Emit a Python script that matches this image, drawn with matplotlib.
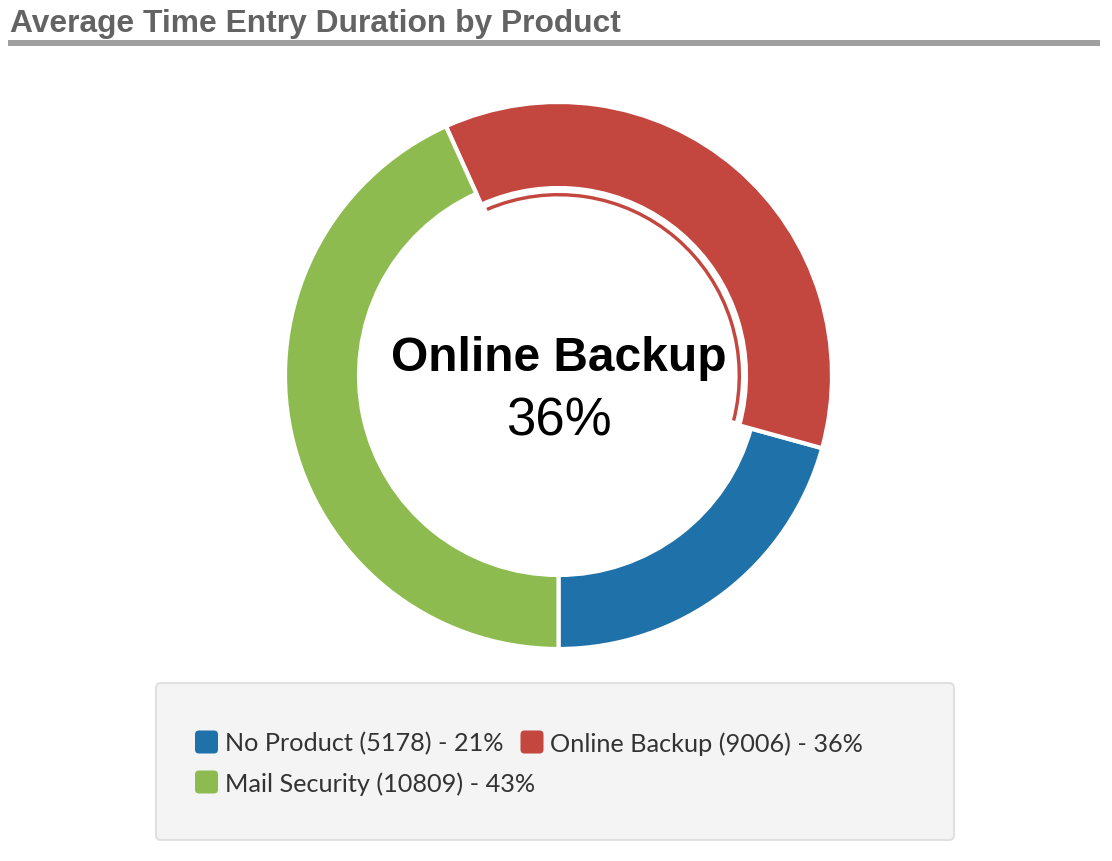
import matplotlib
matplotlib.use("Agg")
import matplotlib.pyplot as plt
from matplotlib.patches import Wedge, FancyBboxPatch, Rectangle

# chart data
products = ["No Product", "Online Backup", "Mail Security"]
durations = [5178, 9006, 10809]
colors = ["#1f72a9", "#c3463f", "#8dbb4f"]
highlight = 1  # hovered slice shown in the middle
title = "Average Time Entry Duration by Product"

total = sum(durations)
pcts = [round(100 * v / total) for v in durations]

W, H = 1112, 862
fig = plt.figure(figsize=(W / 100, H / 100), dpi=100)

# background axes in pixel units for title and legend
bg = fig.add_axes([0, 0, 1, 1])
bg.set_xlim(0, W)
bg.set_ylim(H, 0)
bg.axis("off")

bg.text(10, 32, title, fontsize=22.9, fontweight="bold", color="#636363",
        family="Liberation Sans", va="baseline", ha="left")
bg.add_patch(Rectangle((8, 41), 1092, 6, color="#a0a0a0", lw=0))

# donut axes: 1 data unit = 1 pixel
cx, cy, half = 558.5, 376.5, 300
ax = fig.add_axes([(cx - half) / W, (H - cy - half) / H, 2 * half / W, 2 * half / H])

wedges, _ = ax.pie(durations, colors=colors, startangle=270, counterclock=True,
                   radius=273.5, wedgeprops=dict(width=74, edgecolor="white", linewidth=3))
ax.set_xlim(-half, half)
ax.set_ylim(-half, half)
ax.set_aspect("equal")
ax.axis("off")

# hovered slice grows inward and gets a thin ring inside it
hw = wedges[highlight]
hw.set_width(86)
ax.add_patch(Wedge((0, 0), 182.5, hw.theta1 + 1.0, hw.theta2 - 1.0, width=3.4,
                   facecolor=colors[highlight], edgecolor="none"))

ax.text(0, 5.5, products[highlight], fontsize=34.5, fontweight="bold",
        family="Liberation Sans", ha="center", va="baseline", color="black")
ax.text(0, -58.5, f"{pcts[highlight]}%", fontsize=38,
        family="Liberation Sans", ha="center", va="baseline", color="black")

# legend box
bg.add_patch(FancyBboxPatch((156, 684), 798, 157, boxstyle="round,pad=0,rounding_size=5",
                            facecolor="#f4f4f4", edgecolor="#e0e0e0", linewidth=1.5))

fig.canvas.draw()
renderer = fig.canvas.get_renderer()
x0, x_max = 195, 920
x, row_y = x0, 743
for name, val, p, c in zip(products, durations, pcts, colors):
    label = f"{name} ({val}) - {p}%"
    t = bg.text(0, 0, label, fontsize=18.2, family="Lato", color="#333333",
                ha="left", va="center")
    tw = t.get_window_extent(renderer).width
    if x != x0 and x + 30 + tw > x_max:
        x, row_y = x0, row_y + 40
    bg.add_patch(FancyBboxPatch((x, row_y - 11.5), 23, 23,
                                boxstyle="round,pad=0,rounding_size=4",
                                facecolor=c, edgecolor="none"))
    t.set_position((x + 30, row_y + 1))
    x += 30 + tw + 17

fig.savefig("out.png", dpi=100, facecolor="white")
